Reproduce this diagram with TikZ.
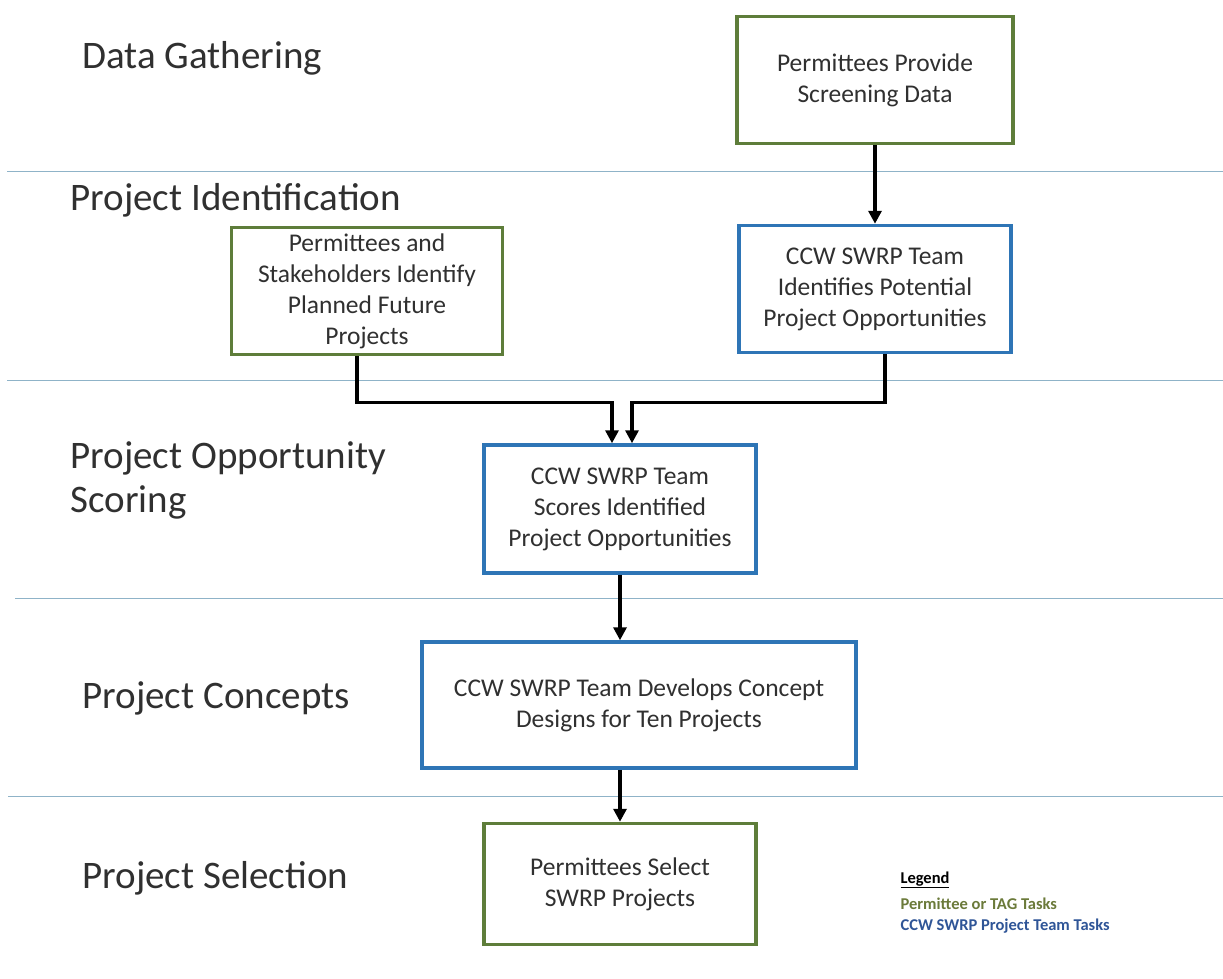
\documentclass[tikz,border=0pt]{standalone}
\usepackage{fontspec}
\setmainfont{Carlito}
\usetikzlibrary{positioning, arrows.meta}
\definecolor{permgreen}{HTML}{5E7D3A}
\definecolor{teamblue}{HTML}{2E75B6}
\definecolor{legblue}{HTML}{2F5597}
\definecolor{legolive}{HTML}{6B7A3A}
\definecolor{rulecol}{HTML}{8FB3C8}
\definecolor{txtcol}{HTML}{303030}
\tikzset{
  task/.style={draw, line width=3.5pt, fill=white, align=center, text=txtcol,
    font=\fontsize{25.5}{31}\selectfont, inner sep=4pt},
  permtask/.style={task, draw=permgreen},
  teamtask/.style={task, draw=teamblue},
  phase/.style={anchor=west, align=left, text=txtcol, font=\fontsize{39}{44}\selectfont},
  band/.style={draw=rulecol, line width=1pt},
  flow/.style={draw=black, line width=3.5pt, -{Triangle[length=13pt,width=13pt]}},
  legend/.style={anchor=west, font=\fontsize{16.5}{19}\selectfont\bfseries, inner ysep=4.5pt}
}
\begin{document}
\begin{tikzpicture}[x=1pt, y=-1pt]
\useasboundingbox (0,0) rectangle (1223,979);
% Trennlinien
\draw[band] (7,171) -- (1223,171);
\draw[band] (7,380) -- (1223,380);
\draw[band] (15,598) -- (1223,598);
\draw[band] (8,796) -- (1223,796);
% Phasen
\node[phase] (pgather) at (79,58) {Data Gathering};
\node[phase] (pident) at (67,200) {Project Identification};
\node[phase] (pscore) at (67,480) {Project Opportunity\\Scoring};
\node[phase] (pconcept) at (79,698) {Project Concepts};
\node[phase] (pselect) at (79,878) {Project Selection};
% Aufgaben
\node[permtask, minimum width=276pt, minimum height=127pt] (screen) at (875,80) {Permittees Provide\\Screening Data};
\node[permtask, minimum width=271pt, minimum height=127pt] (planned) at (367,291) {Permittees and\\Stakeholders Identify\\Planned Future\\Projects};
\node[teamtask, minimum width=272pt, minimum height=127pt] (identify) at (875,289) {CCW SWRP Team\\Identifies Potential\\Project Opportunities};
\node[teamtask, minimum width=272pt, minimum height=128pt] (scores) at (620,509) {CCW SWRP Team\\Scores Identified\\Project Opportunities};
\node[teamtask, minimum width=434pt, minimum height=126pt] (concept) at (639,705) {CCW SWRP Team Develops Concept\\Designs for Ten Projects};
\node[permtask, minimum width=272pt, minimum height=121pt] (select) at (620,884) {Permittees Select\\SWRP Projects};
% Legende
\node[legend] (legtitle) at (897,880) {\underline{Legend}};
\node[legend, text=legolive, below=0pt of legtitle.south west, anchor=north west] (legperm) {Permittee or TAG Tasks};
\node[legend, text=legblue, below=0pt of legperm.south west, anchor=north west] (legteam) {CCW SWRP Project Team Tasks};
% Pfeile
\draw[flow] (screen) -- (identify);
\draw[flow] ([xshift=-10]planned.south) -- ++(0,46) -| ([xshift=-8]scores.north);
\draw[flow] ([xshift=10]identify.south) -- ++(0,48) -| ([xshift=12]scores.north);
\draw[flow] (scores.south) -- (scores.south |- concept.north);
\draw[flow] (concept.south -| scores.south) -- (select.north);
\end{tikzpicture}
\end{document}
